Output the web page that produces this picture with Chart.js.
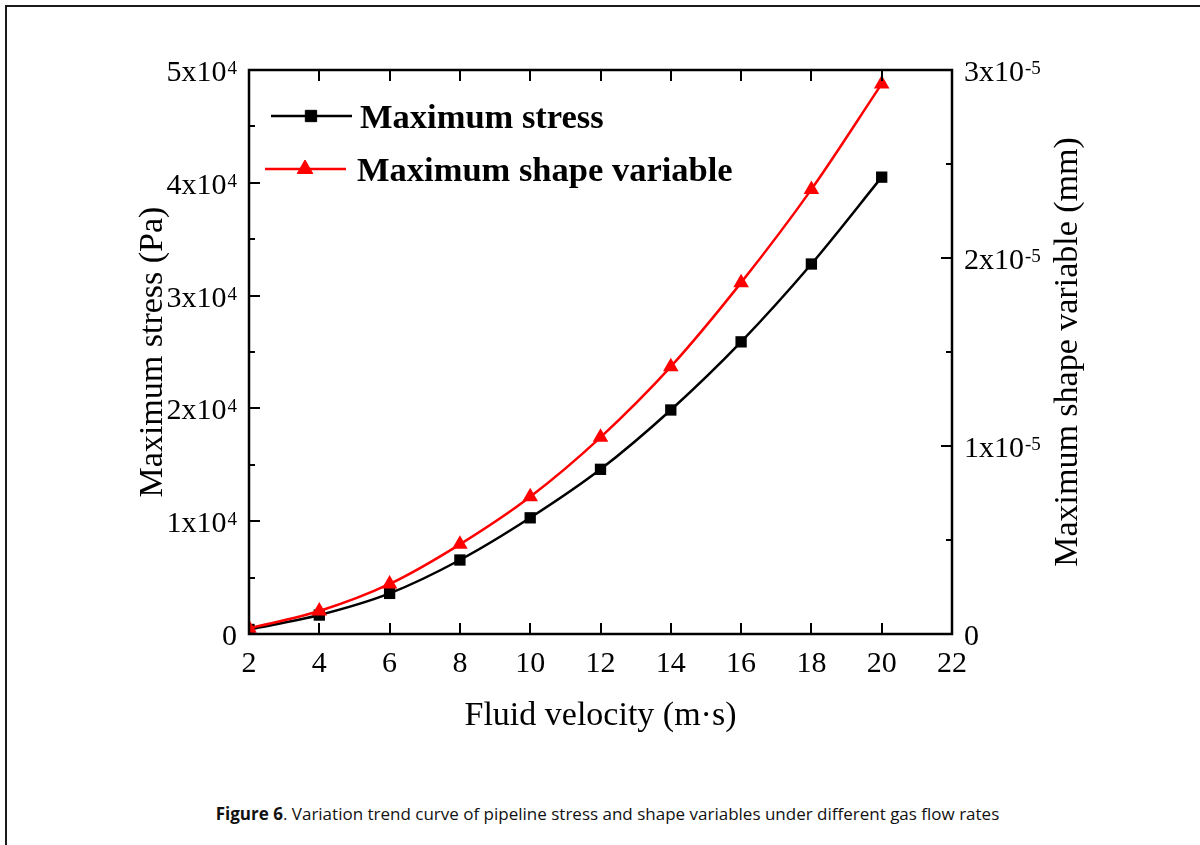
<!DOCTYPE html>
<html>
<head>
<meta charset="utf-8">
<script src="https://cdn.jsdelivr.net/npm/chart.js@4/dist/chart.umd.min.js"></script>
<style>
  html, body { margin: 0; padding: 0; background: #fff; overflow: hidden; }
  .frame {
    position: absolute; left: 5px; top: 5px; width: 1210px; height: 860px;
    border: 2px solid #1a1a1a; box-sizing: border-box;
  }
  #plot { position: absolute; left: 0; top: 0; }
  .caption {
    position: absolute; left: 5px; width: 1205px; top: 802px;
    text-align: center; font-family: 'Open Sans', sans-serif; font-size: 17px; color: #111;
  }
</style>
</head>
<body>
<div class="frame"></div>
<canvas id="plot" width="1200" height="770"></canvas>
<div class="caption"><b>Figure 6</b>. Variation trend curve of pipeline stress and shape variables under different gas flow rates</div>
<script>
  // flow velocity (m/s)
  const velocity = [2, 4, 6, 8, 10, 12, 14, 16, 18, 20];
  // maximum stress (Pa), left axis
  const maxStress = [400, 1680, 3600, 6560, 10300, 14600, 19860, 25900, 32800, 40500];
  // maximum shape variable (mm), right axis
  const maxShape = [0.03e-5, 0.122e-5, 0.266e-5, 0.477e-5, 0.73e-5, 1.046e-5, 1.422e-5, 1.869e-5, 2.365e-5, 2.926e-5];

  const xTicks = [2, 4, 6, 8, 10, 12, 14, 16, 18, 20, 22];
  const stressTicks = [0, 10000, 20000, 30000, 40000, 50000];
  const stressTickLabels = ['0', '1x10^4', '2x10^4', '3x10^4', '4x10^4', '5x10^4'];
  const shapeTicks = [0, 1e-5, 2e-5, 3e-5];
  const shapeTickLabels = ['0', '1x10^-5', '2x10^-5', '3x10^-5'];

  const SERIF = "'Liberation Serif', 'Times New Roman', serif";
  const RED = '#ff0000';
  const BLACK = '#000000';

  const pairs = (xs, ys) => xs.map((x, i) => ({ x: x, y: ys[i] }));

  // midpoints between major ticks -> minor ticks
  const minors = (t) => t.slice(1).map((v, i) => (v + t[i]) / 2);

  // "1x10^4" -> base + superscript
  function drawSupLabel(ctx, text, x, y, align) {
    const parts = text.split('^');
    ctx.font = '30px ' + SERIF;
    const wBase = ctx.measureText(parts[0]).width;
    ctx.font = '19px ' + SERIF;
    const wSup = parts[1] ? ctx.measureText(parts[1]).width + 1 : 0;
    const x0 = align === 'right' ? x - wBase - wSup : x;
    ctx.textAlign = 'left';
    ctx.textBaseline = 'alphabetic';
    ctx.font = '30px ' + SERIF;
    ctx.fillText(parts[0], x0, y);
    if (parts[1]) {
      ctx.font = '19px ' + SERIF;
      ctx.fillText(parts[1], x0 + wBase + 1, y - 7);
    }
  }

  const frame = {
    id: 'frame',
    afterDatasetsDraw(chart) {
      const { ctx, chartArea: a, scales } = chart;
      const sx = scales.x, sl = scales.y, sr = scales.y2;
      const MAJ = 11, MIN = 6;
      ctx.save();
      ctx.strokeStyle = BLACK;
      ctx.fillStyle = BLACK;

      // ticks, all pointing inward
      ctx.lineWidth = 2;
      ctx.beginPath();
      xTicks.forEach(v => {
        const p = Math.round(sx.getPixelForValue(v));
        ctx.moveTo(p, a.bottom); ctx.lineTo(p, a.bottom - MAJ);
        ctx.moveTo(p, a.top); ctx.lineTo(p, a.top + MAJ);
      });
      stressTicks.forEach(v => {
        const p = Math.round(sl.getPixelForValue(v));
        ctx.moveTo(a.left, p); ctx.lineTo(a.left + MAJ, p);
      });
      minors(stressTicks).forEach(v => {
        const p = Math.round(sl.getPixelForValue(v));
        ctx.moveTo(a.left, p); ctx.lineTo(a.left + MIN, p);
      });
      shapeTicks.forEach(v => {
        const p = Math.round(sr.getPixelForValue(v));
        ctx.moveTo(a.right, p); ctx.lineTo(a.right - MAJ, p);
      });
      minors(shapeTicks).forEach(v => {
        const p = Math.round(sr.getPixelForValue(v));
        ctx.moveTo(a.right, p); ctx.lineTo(a.right - MIN, p);
      });
      ctx.stroke();

      // axis box
      ctx.lineWidth = 2.5;
      ctx.strokeRect(a.left, a.top, a.right - a.left, a.bottom - a.top);

      // tick labels
      ctx.font = '30px ' + SERIF;
      ctx.textAlign = 'center';
      ctx.textBaseline = 'alphabetic';
      xTicks.forEach(v => ctx.fillText(String(v), sx.getPixelForValue(v), a.bottom + 38));
      stressTicks.forEach((v, i) => drawSupLabel(ctx, stressTickLabels[i], a.left - 12, sl.getPixelForValue(v) + 11, 'right'));
      shapeTicks.forEach((v, i) => drawSupLabel(ctx, shapeTickLabels[i], a.right + 12, sr.getPixelForValue(v) + 11, 'left'));

      // axis titles
      ctx.font = '34px ' + SERIF;
      ctx.textAlign = 'center';
      ctx.textBaseline = 'middle';
      ctx.fillText('Fluid velocity (m\u00b7s)', (a.left + a.right) / 2, a.bottom + 82);
      const midY = (a.top + a.bottom) / 2;
      ctx.save();
      ctx.translate(a.left - 96, midY);
      ctx.rotate(-Math.PI / 2);
      ctx.fillText('Maximum stress (Pa)', 0, 0);
      ctx.restore();
      ctx.save();
      ctx.translate(a.right + 116, midY);
      ctx.rotate(-Math.PI / 2);
      ctx.fillText('Maximum shape variable (mm)', 0, 0);
      ctx.restore();

      // legend: line with marker, bold label
      const items = [
        { label: 'Maximum stress', color: BLACK, style: 'rect', r: 8, x0: a.left + 22, y: a.top + 46, tx: a.left + 111 },
        { label: 'Maximum shape variable', color: RED, style: 'triangle', r: 9, x0: a.left + 16, y: a.top + 99, tx: a.left + 108 }
      ];
      items.forEach(it => {
        ctx.strokeStyle = it.color;
        ctx.fillStyle = it.color;
        ctx.lineWidth = 2.5;
        ctx.beginPath();
        ctx.moveTo(it.x0, it.y);
        ctx.lineTo(it.x0 + 81, it.y);
        ctx.stroke();
        ctx.lineWidth = 1;
        Chart.helpers.drawPoint(ctx, { pointStyle: it.style, radius: it.r, rotation: 0, borderWidth: 1 }, it.x0 + 40, it.y);
        ctx.fillStyle = BLACK;
        ctx.font = 'bold 34.5px ' + SERIF;
        ctx.textAlign = 'left';
        ctx.textBaseline = 'alphabetic';
        ctx.fillText(it.label, it.tx, it.y + 12);
      });
      ctx.restore();
    }
  };

  new Chart(document.getElementById('plot').getContext('2d'), {
    type: 'line',
    data: {
      datasets: [
        {
          label: 'Maximum stress',
          data: pairs(velocity, maxStress),
          yAxisID: 'y',
          borderColor: BLACK,
          backgroundColor: BLACK,
          borderWidth: 2.5,
          pointStyle: 'rect',
          pointRadius: 8,
          pointBorderWidth: 0,
          cubicInterpolationMode: 'monotone',
          order: 2
        },
        {
          label: 'Maximum shape variable',
          data: pairs(velocity, maxShape),
          yAxisID: 'y2',
          borderColor: RED,
          backgroundColor: RED,
          borderWidth: 2.5,
          pointStyle: 'triangle',
          pointRadius: 9,
          pointBorderWidth: 0,
          cubicInterpolationMode: 'monotone',
          order: 1
        }
      ]
    },
    options: {
      responsive: false,
      animation: false,
      devicePixelRatio: 1,
      layout: { padding: { left: 249, right: 248, top: 70, bottom: 136 } },
      plugins: { legend: { display: false }, tooltip: { enabled: false } },
      scales: {
        x: { type: 'linear', display: false, min: 2, max: 22 },
        y: { type: 'linear', display: false, position: 'left', min: 0, max: 50000 },
        y2: { type: 'linear', display: false, position: 'right', min: 0, max: 3e-5 }
      }
    },
    plugins: [frame]
  });
</script>
</body>
</html>
